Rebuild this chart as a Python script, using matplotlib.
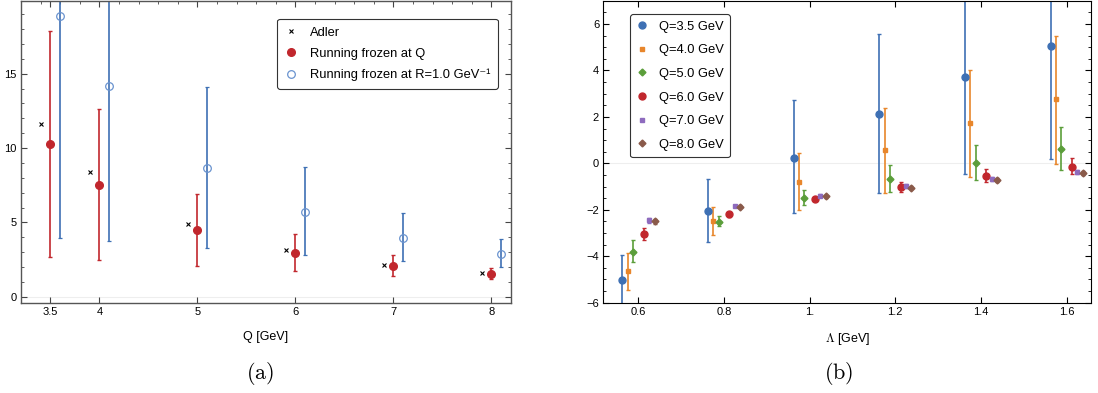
import numpy as np
import matplotlib.pyplot as plt
from matplotlib.ticker import FixedLocator, MultipleLocator

plt.rcParams['font.family'] = ['Liberation Sans', 'DejaVu Sans']
plt.rcParams['mathtext.fontset'] = 'cm'

# ---- panel (a) data ----
Q = [3.5, 4.0, 5.0, 6.0, 7.0, 8.0]
adler = [11.64, 8.37, 4.88, 3.13, 2.15, 1.57]
frozen_q = [10.25, 7.48, 4.46, 2.95, 2.06, 1.50]
frozen_q_hi = [17.9, 12.6, 6.94, 4.25, 2.78, 1.90]
frozen_q_lo = [2.68, 2.46, 2.06, 1.72, 1.41, 1.17]
frozen_r = [18.86, 14.14, 8.66, 5.68, 3.96, 2.89]
frozen_r_hi = [25.0, 24.0, 14.1, 8.7, 5.66, 3.87]
frozen_r_lo = [3.96, 3.74, 3.25, 2.80, 2.40, 1.97]

# ---- panel (b) data ----
lam = [0.55, 0.75, 0.95, 1.15, 1.35, 1.55]
q_labels = ["Q=3.5 GeV", "Q=4.0 GeV", "Q=5.0 GeV", "Q=6.0 GeV", "Q=7.0 GeV", "Q=8.0 GeV"]
vals = [
    [-5.01, -2.05, 0.24, 2.12, 3.70, 5.06],
    [-4.62, -2.48, -0.79, 0.57, 1.74, 2.75],
    [-3.81, -2.52, -1.50, -0.69, 0.00, 0.60],
    [-3.06, -2.20, -1.53, -1.00, -0.55, -0.15],
    [-2.46, -1.83, -1.39, -0.97, -0.69, -0.37],
    [-2.50, -1.86, -1.42, -1.05, -0.72, -0.43],
]
hi = [
    [-3.94, -0.67, 2.72, 5.55, 9.0, 9.0],
    [-3.84, -1.86, 0.43, 2.39, 4.03, 5.49],
    [-3.32, -2.26, -1.15, -0.09, 0.80, 1.57],
    [-2.79, -2.08, -1.43, -0.79, -0.23, 0.24],
    [-2.34, -1.78, -1.34, -0.90, -0.60, -0.27],
    [-2.38, -1.80, -1.36, -0.98, -0.64, -0.35],
]
lo = [
    [-7.0, -3.38, -2.15, -1.26, -0.47, 0.18],
    [-5.44, -3.10, -2.03, -1.26, -0.57, -0.02],
    [-4.24, -2.69, -1.79, -1.22, -0.73, -0.30],
    [-3.29, -2.32, -1.63, -1.22, -0.79, -0.47],
    [-2.58, -1.88, -1.44, -1.04, -0.78, -0.47],
    [-2.62, -1.92, -1.48, -1.12, -0.80, -0.51],
]

colors_b = ['#3E70B4', '#E8862B', '#5B9E3A', '#C1272D', '#8E6BBE', '#8A5A4A']
markers_b = ['o', 's', 'D', 'o', 's', 'D']
msizes_b = [5, 3.3, 3.5, 5, 3.3, 3.5]
dodge_b = [0.0125, 0.025, 0.0375, 0.0625, 0.075, 0.0875]

fig = plt.figure(figsize=(10.98, 3.93), dpi=100)
ax1 = fig.add_axes([0.0191, 0.2298, 0.4463, 0.7682])
ax2 = fig.add_axes([0.5495, 0.2298, 0.4441, 0.7682])

red = '#C1272D'
blue = '#3E70B4'

q = np.array(Q)
ax1.axhline(0, color='#eeeeee', lw=0.8, zorder=0)
ax1.plot(q - 0.1, adler, 'x', color='black', ms=3.0, mew=0.8, label='Adler')
fq = np.array(frozen_q)
ax1.errorbar(q, fq, yerr=[fq - np.array(frozen_q_lo), np.array(frozen_q_hi) - fq],
             fmt='o', color=red, ms=5.5, elinewidth=1.2, capsize=1.2, capthick=1.0,
             label='Running frozen at Q')
fr = np.array(frozen_r)
ax1.errorbar(q + 0.1, fr, yerr=[fr - np.array(frozen_r_lo), np.array(frozen_r_hi) - fr],
             fmt='o', color=blue, mfc='none', mec='#6A93CF', ms=5.5, mew=0.9,
             elinewidth=1.2, capsize=1.2, capthick=1.0,
             label='Running frozen at R=1.0 GeV⁻¹')
ax1.set_xlim(3.2, 8.2)
ax1.set_ylim(-0.4, 19.9)
ax1.xaxis.set_major_locator(FixedLocator([3.5, 4, 5, 6, 7, 8]))
ax1.set_xticklabels(['3.5', '4', '5', '6', '7', '8'])
ax1.xaxis.set_minor_locator(MultipleLocator(0.2))
ax1.yaxis.set_major_locator(FixedLocator([0, 5, 10, 15]))
ax1.yaxis.set_minor_locator(MultipleLocator(1))
ax1.tick_params(which='both', direction='in', top=True, right=True, labelsize=8,
                color='#444444', pad=3)
ax1.tick_params(which='minor', bottom=False, length=2)
ax1.tick_params(which='major', length=4)
for s in ax1.spines.values():
    s.set_color('#555555')
    s.set_linewidth(1.0)
ax1.set_xlabel('Q [GeV]', fontsize=9, labelpad=10)
h1, l1 = ax1.get_legend_handles_labels()
h1 = [h if not hasattr(h, 'lines') else h[0] for h in h1]
leg1 = ax1.legend(h1, l1, loc='upper right', bbox_to_anchor=(0.973, 0.94),
                  borderaxespad=0, fontsize=9.3,
                  frameon=True, fancybox=True, edgecolor='#333333', framealpha=1,
                  handlelength=1.0, handletextpad=0.9, borderpad=0.6, labelspacing=0.7)
leg1.get_frame().set_linewidth(0.8)

ax2.axhline(0, color='#eeeeee', lw=0.8, zorder=0)
for i in range(len(q_labels)):
    x = np.array(lam) + dodge_b[i]
    v = np.array(vals[i])
    ax2.errorbar(x, v, yerr=[v - np.array(lo[i]), np.array(hi[i]) - v],
                 fmt=markers_b[i], color=colors_b[i], ms=msizes_b[i],
                 elinewidth=1.2, capsize=1.2, capthick=1.0, label=q_labels[i])
ax2.set_xlim(0.518, 1.657)
ax2.set_ylim(-6, 7)
ax2.xaxis.set_major_locator(FixedLocator([0.6, 0.8, 1.0, 1.2, 1.4, 1.6]))
ax2.set_xticklabels(['0.6', '0.8', '1.', '1.2', '1.4', '1.6'])
ax2.yaxis.set_major_locator(FixedLocator([-6, -4, -2, 0, 2, 4, 6]))
ax2.set_yticklabels(['\u22126', '\u22124', '\u22122', '0', '2', '4', '6'])
ax2.yaxis.set_minor_locator(MultipleLocator(0.5))
ax2.tick_params(which='both', direction='in', top=True, right=True, labelsize=8, pad=3)
ax2.tick_params(which='minor', length=2)
ax2.tick_params(which='major', length=4)
ax2.set_xlabel(r'$\Lambda$ [GeV]', fontsize=9, labelpad=10)
handles, labels = ax2.get_legend_handles_labels()
handles = [h[0] for h in handles]
leg2 = ax2.legend(handles, labels, loc='upper left', bbox_to_anchor=(0.055, 0.956),
                  borderaxespad=0,
                  fontsize=9.3, frameon=True, fancybox=True, edgecolor='#333333',
                  framealpha=1, handlelength=0.8, handletextpad=0.9, borderpad=0.5,
                  labelspacing=0.9)
leg2.get_frame().set_linewidth(0.8)

fig.text(0.237, 0.05, r'$\mathrm{(a)}$', fontsize=16, ha='center', va='center')
fig.text(0.764, 0.05, r'$\mathrm{(b)}$', fontsize=16, ha='center', va='center')

fig.savefig('out.png', dpi=100)
